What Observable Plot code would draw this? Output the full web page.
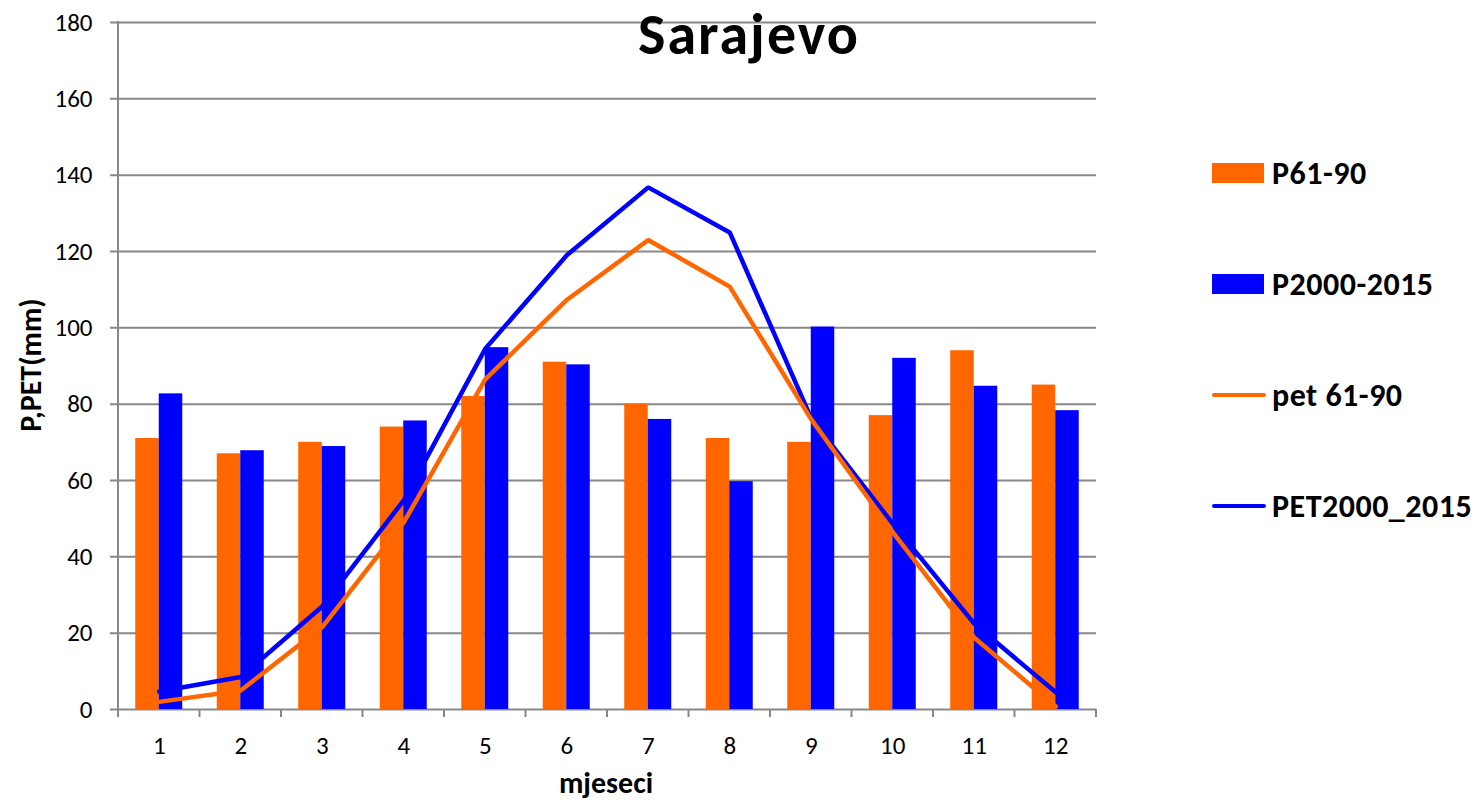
<!DOCTYPE html>
<html>
<head>
<meta charset="utf-8">
<script src="https://cdn.jsdelivr.net/npm/d3@7"></script>
<script src="https://cdn.jsdelivr.net/npm/@observablehq/plot@0.6"></script>
<style>
  body { margin: 0; background: #fff; }
  #wrap { position: relative; width: 1482px; height: 802px; font-family: Carlito, Lato, "Open Sans", sans-serif; }
  .title { position: absolute; left: 749px; top: 0px; transform: translateX(-50%); font-size: 58px; letter-spacing: 2px; font-weight: bold; color: #000; white-space: nowrap; line-height: 1.2; }
  .xlabel { position: absolute; left: 606px; top: 765px; transform: translateX(-50%); font-size: 30px; font-weight: bold; white-space: nowrap; line-height: 1.2; }
  .ylabel { position: absolute; left: 30px; top: 365px; transform: translate(-50%, -50%) rotate(-90deg); font-size: 30px; font-weight: bold; white-space: nowrap; }
  .leg { position: absolute; left: 1212px; height: 30px; display: flex; align-items: center; font-size: 32px; letter-spacing: 0.5px; font-weight: bold; white-space: nowrap; }
  .sw { width: 52px; height: 20px; margin-right: 8px; flex: none; }
  .ln { width: 54px; height: 4px; border-radius: 2px; margin-right: 6px; flex: none; }
</style>
</head>
<body>
<div id="wrap"></div>
<script>
const months = [1, 2, 3, 4, 5, 6, 7, 8, 9, 10, 11, 12];
const p6190 = [71, 67, 70, 74, 82, 91, 80, 71, 70, 77, 94, 85];
const p20002015 = [82.7, 67.8, 68.9, 75.6, 94.8, 90.3, 76, 59.7, 100.2, 92, 84.7, 78.3];
const pet6190 = [2, 5, 21.6, 49, 86.5, 107.3, 123, 110.8, 76, 46.5, 18.8, 0.8];
const pet20002015 = [4.7, 8.5, 27, 54.8, 94.5, 119, 136.8, 125, 76.3, 48.7, 22.5, 4.5];
const yTicks = [0, 20, 40, 60, 80, 100, 120, 140, 160, 180];
const seriesNames = ["P61-90", "P2000-2015", "pet 61-90", "PET2000_2015"];
const orange = "#FF6600", blue = "#0000FF", gridColor = "#888888";

const rows = months.map((m, i) => ({month: m, p1: p6190[i], p2: p20002015[i], e1: pet6190[i], e2: pet20002015[i]}));

const W = 1482, H = 802, mL = 118, mR = 386, mT = 22, mB = 93;
const step = (W - mL - mR) / months.length;
const barW = 23.5;
const font = "Carlito, Lato, 'Open Sans', sans-serif";

function decor(index, scales, values, dimensions) {
  const g = d3.create("svg:g").attr("stroke", gridColor).attr("stroke-width", 2).attr("fill", "none");
  const left = dimensions.marginLeft, right = dimensions.width - dimensions.marginRight;
  const top = dimensions.marginTop, bottom = dimensions.height - dimensions.marginBottom;
  g.append("line").attr("x1", left).attr("x2", left).attr("y1", top - 1).attr("y2", bottom + 1);
  const n = months.length;
  for (let k = 0; k <= n; ++k) {
    const xx = left + (right - left) * k / n;
    g.append("line").attr("x1", xx).attr("x2", xx).attr("y1", bottom).attr("y2", bottom + 8);
  }
  return g.node();
}

const chart = Plot.plot({
  width: W, height: H,
  marginLeft: mL, marginRight: mR, marginTop: mT, marginBottom: mB,
  style: {fontFamily: font, color: "#000", background: "#fff", overflow: "visible"},
  x: {type: "band", domain: months, paddingInner: 0, paddingOuter: 0, round: false, axis: null},
  y: {domain: [0, 180], axis: null},
  marks: [
    Plot.ruleY(yTicks, {y: d => d, stroke: gridColor, strokeWidth: 2, insetLeft: -8}),
    Plot.barY(rows, {x: "month", y: "p1", fill: orange, insetLeft: step / 2 - barW, insetRight: step / 2}),
    Plot.barY(rows, {x: "month", y: "p2", fill: blue, insetLeft: step / 2, insetRight: step / 2 - barW}),
    decor,
    Plot.lineY(rows, {x: "month", y: "e2", stroke: blue, strokeWidth: 4.5, strokeLinejoin: "miter"}),
    Plot.lineY(rows, {x: "month", y: "e1", stroke: orange, strokeWidth: 4.5, strokeLinejoin: "miter"}),
    Plot.text(months, {x: d => d, frameAnchor: "bottom", dy: 36, lineAnchor: "middle", text: d => String(d), fontSize: 25, fill: "#000"}),
    Plot.text(yTicks, {y: d => d, frameAnchor: "left", dx: -26, textAnchor: "end", lineAnchor: "middle", text: d => String(d), fontSize: 25, fill: "#000"})
  ]
});

const wrap = document.getElementById("wrap");
wrap.appendChild(chart);

function addDiv(cls, text, css) {
  const d = document.createElement("div");
  d.className = cls;
  if (text != null) d.textContent = text;
  if (css) Object.assign(d.style, css);
  wrap.appendChild(d);
  return d;
}
addDiv("title", "Sarajevo");
addDiv("xlabel", "mjeseci");
addDiv("ylabel", "P,PET(mm)");

const legTops = [158, 269, 380, 491];
const legKinds = [["sw", orange], ["sw", blue], ["ln", orange], ["ln", blue]];
seriesNames.forEach((name, i) => {
  const item = addDiv("leg", null, {top: legTops[i] + "px"});
  const s = document.createElement("div");
  s.className = legKinds[i][0];
  s.style.background = legKinds[i][1];
  item.appendChild(s);
  const t = document.createElement("span");
  t.textContent = name;
  item.appendChild(t);
});
</script>
</body>
</html>
